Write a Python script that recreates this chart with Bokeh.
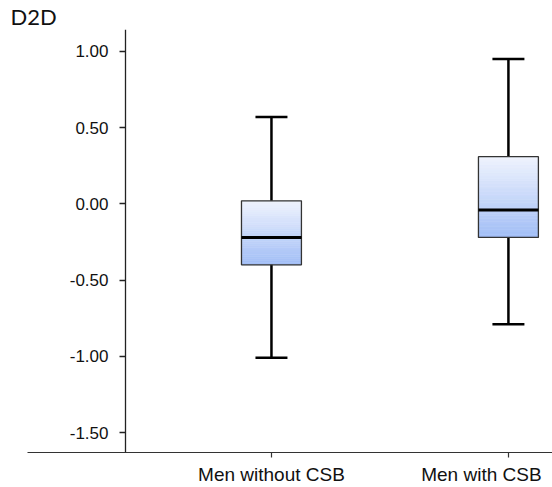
import numpy as np
from bokeh.plotting import figure
from bokeh.models import (LinearAxis, FixedTicker, NumeralTickFormatter,
                          ColumnDataSource)
from bokeh.embed import file_html
from bokeh.resources import INLINE

# ---- data ----
categories = ["Men without CSB", "Men with CSB"]
whisker_low = [-1.01, -0.79]
q1 = [-0.40, -0.22]
median = [-0.22, -0.04]
q3 = [0.02, 0.31]
whisker_high = [0.57, 0.95]
y_ticks = [-1.5, -1.0, -0.5, 0.0, 0.5, 1.0]
title_text = "D2D"

# ---- style ----
BOX_W = 0.253
CAP_W = 0.135
TOP_RGB = np.array([240, 244, 254])
BOT_RGB = np.array([162, 190, 246])
N_STRIPS = 30
LABEL_SHIFT = [0.0, -0.114]   # horizontal nudge of category labels (data units)

xpos = [i + 1 for i in range(len(categories))]

p = figure(width=552, height=487, output_backend="svg", toolbar_location=None,
           x_range=(-0.0295, 2.186), y_range=(-1.631, 1.144),
           y_axis_location=None, min_border_left=27, min_border_right=0,
           min_border_top=0, min_border_bottom=34)
p.outline_line_color = None
p.xgrid.visible = False
p.ygrid.visible = False
p.background_fill_color = "white"
p.border_fill_color = "white"

# title
p.title.text = title_text
p.title.align = "left"
p.title.offset = -17
p.title.standoff = 0
p.title.text_font = "Lato"
p.title.text_font_size = "22px"
p.title.text_font_style = "normal"
p.title.text_color = "#111111"

# x axis: tick marks
xa = p.xaxis[0]
xa.ticker = FixedTicker(ticks=xpos)
xa.major_label_overrides = {x: "" for x in xpos}
xa.major_label_text_font_size = "1px"
xa.major_label_standoff = 0
xa.major_tick_out = 5
xa.major_tick_in = 0
xa.minor_tick_line_color = None
xa.axis_line_color = "#333333"
xa.major_tick_line_color = "#333333"
xa.axis_line_width = 1.2
xa.major_tick_line_width = 1.2

# x axis: category labels
lab_pos = [x + s for x, s in zip(xpos, LABEL_SHIFT)]
xb = LinearAxis(ticker=FixedTicker(ticks=lab_pos))
xb.major_label_overrides = {lp: c for lp, c in zip(lab_pos, categories)}
xb.axis_line_color = None
xb.major_tick_line_color = None
xb.minor_tick_line_color = None
xb.major_tick_out = 0
xb.major_tick_in = 0
xb.major_label_standoff = 6
xb.major_label_text_font = "Liberation Sans"
xb.major_label_text_font_size = "19px"
xb.major_label_text_color = "#111111"
p.add_layout(xb, "below")

# y axis at fixed location inside frame
ya = LinearAxis(fixed_location=0.384)
ya.ticker = FixedTicker(ticks=y_ticks)
ya.formatter = NumeralTickFormatter(format="0.00")
ya.major_tick_out = 6
ya.major_tick_in = 0
ya.minor_tick_line_color = None
ya.axis_line_color = "#222222"
ya.major_tick_line_color = "#222222"
ya.axis_line_width = 1.3
ya.major_tick_line_width = 1.3
ya.major_label_standoff = 11
ya.major_label_text_font = "Liberation Sans"
ya.major_label_text_font_size = "17px"
ya.major_label_text_color = "#111111"
p.add_layout(ya, "left")

# gradient boxes (strips between q1 and q3)
sl, sr, sb, st, sc = [], [], [], [], []
for i, x in enumerate(xpos):
    edges = np.linspace(q3[i], q1[i], N_STRIPS + 1)
    for k in range(N_STRIPS):
        t = (k + 0.5) / N_STRIPS
        rgb = (TOP_RGB * (1 - t) + BOT_RGB * t).astype(int)
        sl.append(x - BOX_W / 2)
        sr.append(x + BOX_W / 2)
        st.append(edges[k])
        sb.append(edges[k + 1])
        sc.append("#%02x%02x%02x" % tuple(rgb))
p.quad(left=sl, right=sr, bottom=sb, top=st, fill_color=sc, line_color=sc,
       line_width=0.5)

src = ColumnDataSource(dict(
    x=xpos,
    left=[x - BOX_W / 2 for x in xpos],
    right=[x + BOX_W / 2 for x in xpos],
    cl=[x - CAP_W / 2 for x in xpos],
    cr=[x + CAP_W / 2 for x in xpos],
    wl=whisker_low, q1=q1, med=median, q3=q3, wh=whisker_high,
))

# whiskers
p.segment(x0="x", y0="q3", x1="x", y1="wh", source=src, line_color="black", line_width=2.5)
p.segment(x0="x", y0="wl", x1="x", y1="q1", source=src, line_color="black", line_width=2.5)
p.segment(x0="cl", y0="wh", x1="cr", y1="wh", source=src, line_color="black", line_width=2.5)
p.segment(x0="cl", y0="wl", x1="cr", y1="wl", source=src, line_color="black", line_width=2.5)

# box outline
p.quad(left="left", right="right", bottom="q1", top="q3", source=src,
       fill_color=None, line_color="#333333", line_width=1.3)
# median
p.segment(x0="left", y0="med", x1="right", y1="med", source=src,
          line_color="black", line_width=3)

open("out.html", "w").write(file_html(p, INLINE))
